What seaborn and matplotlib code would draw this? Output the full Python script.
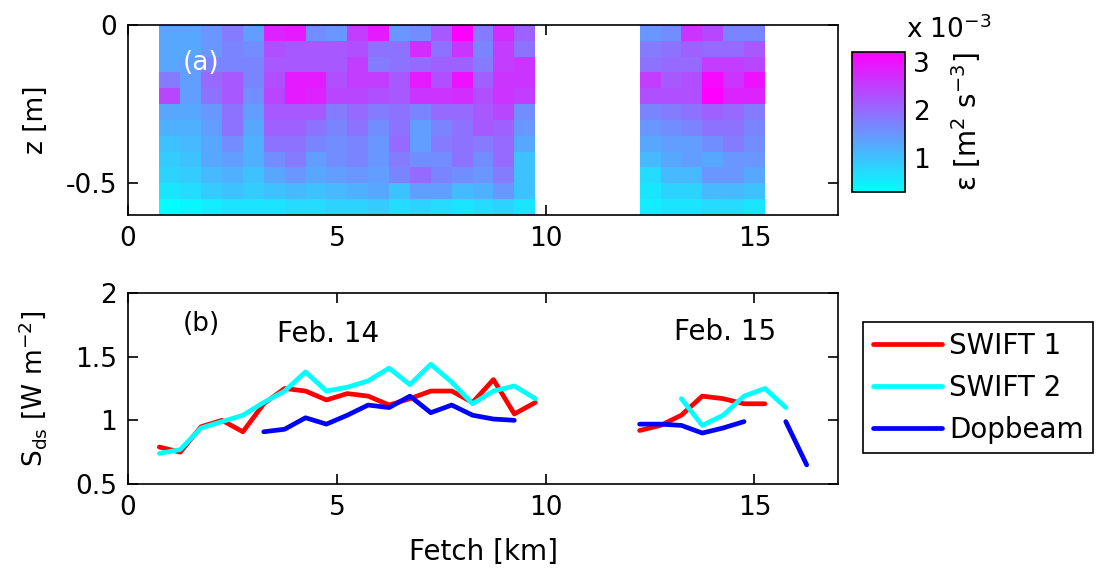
import numpy as np
import pandas as pd
import matplotlib
matplotlib.use("Agg")
import matplotlib.pyplot as plt
import seaborn as sns

# ---- data ----
# dissipation rate, units 1e-3 m^2 s^-3, rows = depth bins 0 .. -0.6 m (0.05 m), cols = 0.5 km fetch bins
eps_feb14 = [
    [1.3, 1.3, 1.5, 1.8, 1.4, 2.8, 2.9, 1.6, 1.5, 2.5, 2.9, 1.5, 1.6, 2.2, 3.2, 1.8, 2.7, 2.1],
    [1.3, 1.3, 1.5, 1.7, 1.6, 2.3, 2.2, 2.2, 2.2, 2.3, 1.9, 1.9, 2.7, 1.9, 2.6, 1.7, 2.5, 1.9],
    [1.3, 1.4, 1.7, 1.7, 1.7, 2.2, 2.2, 2.2, 2.2, 2.5, 1.8, 1.9, 2.0, 2.1, 2.1, 1.8, 2.5, 2.6],
    [1.8, 1.4, 2.0, 2.2, 1.7, 2.3, 2.9, 2.9, 2.3, 2.5, 2.5, 2.2, 2.9, 2.3, 3.0, 2.1, 2.6, 2.6],
    [2.4, 1.4, 1.9, 2.2, 1.6, 2.4, 2.9, 2.8, 2.4, 2.4, 2.3, 2.2, 2.6, 2.6, 2.7, 2.3, 2.6, 2.5],
    [1.3, 1.3, 1.5, 1.9, 1.4, 2.2, 2.2, 2.2, 1.8, 2.0, 1.8, 1.9, 1.7, 2.0, 2.0, 2.2, 2.4, 1.6],
    [1.2, 1.2, 1.4, 1.9, 1.3, 2.1, 2.1, 1.9, 1.7, 1.9, 1.6, 1.9, 1.4, 1.7, 1.9, 2.2, 2.1, 1.5],
    [1.0, 1.1, 1.3, 1.6, 1.2, 1.9, 1.9, 1.7, 1.6, 1.7, 1.5, 2.0, 1.4, 1.8, 1.9, 1.8, 2.0, 1.3],
    [0.9, 1.0, 1.3, 1.4, 1.2, 1.6, 1.8, 1.4, 1.6, 1.7, 1.5, 1.8, 1.6, 1.6, 1.9, 1.6, 2.0, 1.0],
    [0.8, 0.9, 1.1, 1.2, 1.0, 1.3, 1.5, 1.3, 1.4, 1.5, 1.4, 1.7, 2.0, 1.7, 1.6, 1.5, 1.8, 1.0],
    [0.6, 0.7, 0.9, 1.0, 0.9, 1.0, 1.1, 1.0, 1.1, 1.2, 1.3, 1.0, 1.4, 1.4, 1.1, 1.2, 1.5, 1.0],
    [0.3, 0.4, 0.5, 0.6, 0.6, 0.6, 0.7, 0.7, 0.8, 0.8, 0.9, 0.7, 0.8, 0.7, 0.6, 0.7, 0.8, 0.6],
]
eps_feb15 = [
    [1.5, 1.6, 2.6, 2.4, 1.7, 1.7],
    [1.8, 1.9, 2.1, 2.0, 2.0, 2.2],
    [1.9, 2.0, 2.0, 2.5, 2.5, 2.4],
    [2.5, 2.2, 2.3, 3.1, 2.6, 3.0],
    [2.3, 2.3, 2.3, 3.2, 2.8, 2.8],
    [1.7, 1.8, 1.9, 2.1, 2.0, 1.8],
    [1.5, 1.6, 1.7, 1.9, 1.9, 1.7],
    [1.3, 1.4, 1.4, 1.6, 1.8, 1.6],
    [1.1, 1.3, 1.4, 1.3, 1.5, 1.5],
    [0.7, 1.1, 1.1, 1.5, 1.5, 1.3],
    [0.6, 0.8, 0.8, 1.1, 1.1, 1.0],
    [0.5, 0.6, 0.6, 0.7, 0.7, 0.6],
]
n_gap_bins = 5  # empty 0.5 km bins between the two days (9.75 - 12.25 km)

fetch_swift_14 = [0.75, 1.25, 1.75, 2.25, 2.75, 3.25, 3.75, 4.25, 4.75, 5.25,
                  5.75, 6.25, 6.75, 7.25, 7.75, 8.25, 8.75, 9.25, 9.75]
swift1_14 = [0.79, 0.75, 0.95, 1.00, 0.91, 1.13, 1.25, 1.23, 1.16, 1.21,
             1.19, 1.12, 1.17, 1.23, 1.23, 1.14, 1.32, 1.05, 1.14]
swift2_14 = [0.74, 0.77, 0.94, 0.99, 1.04, 1.14, 1.23, 1.38, 1.23, 1.26,
             1.31, 1.41, 1.28, 1.44, 1.30, 1.13, 1.23, 1.27, 1.17]
fetch_dop_14 = [3.25, 3.75, 4.25, 4.75, 5.25, 5.75, 6.25, 6.75, 7.25, 7.75, 8.25, 8.75, 9.25]
dop_14 = [0.91, 0.93, 1.02, 0.97, 1.04, 1.12, 1.10, 1.19, 1.06, 1.12, 1.04, 1.01, 1.00]

fetch_swift1_15 = [12.25, 12.75, 13.25, 13.75, 14.25, 14.75, 15.25]
swift1_15 = [0.92, 0.96, 1.04, 1.19, 1.17, 1.13, 1.13]
fetch_swift2_15 = [13.25, 13.75, 14.25, 14.75, 15.25, 15.75]
swift2_15 = [1.17, 0.96, 1.04, 1.19, 1.25, 1.10]
fetch_dop_15a = [12.25, 12.75, 13.25, 13.75, 14.25, 14.75]
dop_15a = [0.97, 0.97, 0.96, 0.90, 0.94, 0.99]
fetch_dop_15b = [15.75, 16.25]
dop_15b = [0.99, 0.65]

# ---- build tables ----
eps = np.hstack([np.array(eps_feb14),
                 np.full((len(eps_feb14), n_gap_bins), np.nan),
                 np.array(eps_feb15)])

segs = [
    ("SWIFT 1", 0, fetch_swift_14, swift1_14),
    ("SWIFT 2", 1, fetch_swift_14, swift2_14),
    ("Dopbeam", 2, fetch_dop_14, dop_14),
    ("SWIFT 1", 3, fetch_swift1_15, swift1_15),
    ("SWIFT 2", 4, fetch_swift2_15, swift2_15),
    ("Dopbeam", 5, fetch_dop_15a, dop_15a),
    ("Dopbeam", 6, fetch_dop_15b, dop_15b),
]
lines_df = pd.concat([pd.DataFrame({"fetch": f, "sds": v, "inst": name, "seg": k})
                      for name, k, f, v in segs], ignore_index=True)

# ---- plot ----
sns.set_style("ticks")
plt.rcParams["font.family"] = ["DejaVu Sans"]
FS = 19
plt.rcParams.update({"font.size": FS, "text.color": "black", "axes.labelcolor": "black",
                     "xtick.color": "black", "ytick.color": "black",
                     "axes.edgecolor": "black"})

fig = plt.figure(figsize=(10.97, 5.79), dpi=100)
ax1 = fig.add_axes([0.1167, 0.6287, 0.6472, 0.3282])
ax2 = fig.add_axes([0.1167, 0.1641, 0.6472, 0.3299])
cax = fig.add_axes([0.7767, 0.6684, 0.0483, 0.2418])

# (a) dissipation, heatmap bins are 0.5 km wide starting at 0.75 km
sns.heatmap(eps, ax=ax1, cbar_ax=cax, cmap="cool", vmin=0.3, vmax=3.2,
            xticklabels=False, yticklabels=False)
to_bin = lambda km: (km - 0.75) / 0.5
ax1.set_xlim(to_bin(0), to_bin(17))
ax1.set_ylim(12, 0)
ax1.set_xticks([to_bin(k) for k in [0, 5, 10, 15]])
ax1.set_xticklabels(["0", "5", "10", "15"], rotation=0)
ax1.set_yticks([0, 10])
ax1.set_yticklabels(["0", "-0.5"], rotation=0)
ax1.set_ylabel("z [m]")
ax1.set_xlabel("")
ax1.yaxis.set_label_coords(-0.112, 0.5)
for s in ax1.spines.values():
    s.set_visible(True)
    s.set_linewidth(1.2)
ax1.tick_params(direction="in", top=True, right=True, length=7, width=1.2,
                labelsize=FS, pad=8)
ax1.text(to_bin(1.75), 2.4, "(a)", color="white", ha="center", va="center", fontsize=FS)

cb = ax1.collections[0].colorbar
cb.outline.set_linewidth(1.2)
cb.outline.set_edgecolor("black")
cb.set_ticks([1, 2, 3])
cax.tick_params(direction="in", left=True, right=True, length=3, labelsize=FS, pad=6)
cax.set_ylabel("ε [m$^2$ s$^{-3}$]", fontsize=20, labelpad=14)
fig.text(0.826, 1 - 30 / 579, "x 10$^{-3}$", ha="left", va="center", fontsize=FS)

# (b) dissipation rates along fetch
sns.lineplot(data=lines_df, x="fetch", y="sds", hue="inst", units="seg",
             estimator=None, sort=False, ax=ax2, linewidth=3.4,
             palette={"SWIFT 1": "#ff0000", "SWIFT 2": "#00ffff", "Dopbeam": "#0000ff"},
             hue_order=["SWIFT 1", "SWIFT 2", "Dopbeam"])
ax2.set_xlim(0, 17)
ax2.set_ylim(0.5, 2)
ax2.set_xticks([0, 5, 10, 15])
ax2.set_xticklabels(["0", "5", "10", "15"])
ax2.set_yticks([0.5, 1, 1.5, 2])
ax2.set_yticklabels(["0.5", "1", "1.5", "2"])
ax2.set_xlabel("Fetch [km]", labelpad=12, fontsize=20)
ax2.set_ylabel("S$_{\\mathrm{ds}}$ [W m$^{-2}$]")
ax2.yaxis.set_label_coords(-0.112, 0.5)
for s in ax2.spines.values():
    s.set_linewidth(1.2)
ax2.tick_params(direction="in", top=True, right=True, length=7, width=1.2,
                labelsize=FS, pad=8)
ax2.text(1.75, 1.76, "(b)", ha="center", va="center", fontsize=FS)
ax2.text(4.8, 1.68, "Feb. 14", ha="center", va="center", fontsize=20)
ax2.text(14.3, 1.69, "Feb. 15", ha="center", va="center", fontsize=20)

sns.move_legend(ax2, "upper left", bbox_to_anchor=(1.035, 0.848), title=None,
                frameon=True, fancybox=False, fontsize=20, borderaxespad=0,
                handlelength=2.5, handletextpad=0.25, borderpad=0.35,
                labelspacing=0.5)
leg = ax2.get_legend()
leg.get_frame().set_edgecolor("black")
leg.get_frame().set_linewidth(1.2)
leg.get_frame().set_alpha(1)
for ln in leg.get_lines():
    ln.set_linewidth(3.4)

fig.savefig("out.png", dpi=100)
